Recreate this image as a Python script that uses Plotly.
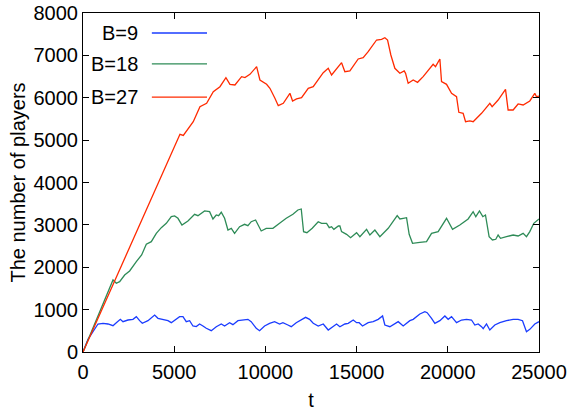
import plotly.graph_objects as go

# ---- data ----
t_b9 = [0, 274, 822, 1096, 1370, 1644, 1827, 2046, 2192, 2466, 2740, 2923, 3105, 3251, 3562, 3927,
        4110, 4384, 4658, 4841, 5023, 5297, 5480, 5662, 5845, 6028, 6210, 6393, 6576, 6759, 7033,
        7307, 7581, 7763, 8037, 8220, 8494, 8768, 9042, 9220, 9499, 9681, 9955, 10229, 10503,
        10778, 10960, 11234, 11417, 11690, 11964, 12203, 12422, 12622, 12896, 13171, 13445,
        13719, 13902, 14084, 14357, 14540, 14815, 15000, 15140, 15325, 15635, 15909, 16183,
        16424, 16550, 16824, 17007, 17281, 17555, 17738, 17920, 18102, 18468, 18742, 18869,
        19109, 19290, 19565, 19839, 20020, 20205, 20479, 20753, 21027, 21301, 21482, 21665,
        21849, 21940, 22122, 22304, 22578, 22852, 23218, 23581, 23855, 24096, 24313, 24496,
        24770, 25000]
n_b9 = [0, 300, 661, 677, 661, 621, 692, 771, 716, 755, 771, 834, 739, 677, 739, 873,
        795, 771, 739, 692, 755, 834, 834, 716, 739, 614, 600, 661, 614, 559, 503,
        597, 661, 614, 692, 645, 739, 755, 771, 716, 559, 503, 614, 677, 716,
        661, 692, 637, 597, 692, 755, 818, 771, 677, 614, 661, 519,
        597, 661, 597, 661, 677, 755, 692, 692, 614, 692, 716, 771,
        850, 637, 597, 637, 716, 614, 677, 739, 771, 897, 952, 928,
        795, 677, 739, 850, 771, 834, 692, 755, 771, 755, 637, 661,
        597, 550, 661, 519, 637, 692, 739, 771, 771, 739, 479, 535,
        661, 716]

t_b18 = [0, 1644, 1827, 2009, 2283, 2557, 2923, 3215, 3471, 3745, 4019, 4293, 4567, 4841,
         5023, 5206, 5425, 5754, 6119, 6302, 6667, 6941, 7124, 7307, 7435, 7581, 7763, 7946,
         8130, 8311, 8585, 8859, 9040, 9223, 9462, 9771, 10045, 10412, 10778, 11143, 11508,
         11782, 11965, 12093, 12275, 12568, 12896, 13080, 13354, 13500, 13628, 13755, 14000,
         14084, 14175, 14450, 14670, 14999, 15180, 15547, 15728, 16002, 16276, 16733, 17226,
         17372, 17555, 17738, 17882, 18066, 18468, 18834, 19109, 19471, 19931, 20260, 20660,
         21115, 21390, 21535, 21736, 21920, 22065, 22265, 22448, 22630, 22759, 22890, 23218,
         23581, 23855, 24130, 24313, 24496, 24715, 25000]
n_b18 = [0, 1699, 1621, 1660, 1817, 1912, 2131, 2289, 2542, 2603, 2801, 2934, 3037, 3193,
         3210, 3155, 2997, 3092, 3250, 3217, 3328, 3311, 3139, 3233, 3217, 3297, 3155, 2879,
         2919, 2801, 2957, 3013, 2982, 3075, 3115, 2856, 2919, 2919, 3037, 3155, 3250,
         3351, 3375, 2839, 2816, 2919, 3075, 3037, 3037, 2934, 2957, 2895, 2974,
         2974, 2840, 2777, 2698, 2816, 2722, 2895, 2761, 2879, 2722, 2919, 3217,
         3139, 3155, 3170, 2777, 2565, 2588, 2603, 2801, 2840, 3155, 2895, 2997,
         3139, 3311, 3193, 3328, 3193, 3233, 2722, 2643, 2660, 2761, 2683, 2722,
         2761, 2738, 2800, 2722, 2840, 3037, 3140]

t_b27 = [0, 5316, 5500, 6045, 6412, 6777, 7143, 7508, 7836, 8056, 8330, 8695, 8878, 9152,
         9518, 9700, 10066, 10248, 10522, 10705, 10980, 11251, 11344, 11490, 11709, 11983,
         12349, 12622, 13171, 13445, 13628, 14176, 14357, 14632, 15087, 15361, 15635, 16095,
         16369, 16550, 16698, 16878, 17097, 17372, 17609, 17685, 17828, 18102, 18341, 18649,
         19197, 19326, 19565, 19657, 19931, 20205, 20479, 20605, 20841, 20973, 21209, 21390,
         21849, 22304, 22430, 22759, 23164, 23307, 23581, 23855, 24129, 24496, 24770, 24862,
         25000]
n_b27 = [0, 5137, 5110, 5435, 5789, 5869, 6143, 6261, 6474, 6317, 6301, 6497, 6474, 6553,
         6733, 6419, 6317, 6223, 5987, 5813, 5869, 6065, 6105, 5924, 5971, 6002,
         6223, 6261, 6592, 6695, 6537, 6828, 6615, 6632, 6915, 6946, 7087, 7363,
         7380, 7417, 7363, 7009, 6695, 6577, 6632, 6577, 6341, 6419, 6364, 6497,
         6789, 6733, 6915, 6379, 6317, 6105, 6025, 5657, 5633, 5435, 5452, 5435,
         5633, 5869, 5789, 5947, 6199, 5711, 5711, 5853, 5829, 5924, 6105, 6025,
         6040]

series = [("B=9", t_b9, n_b9, "#1a3cff"),
          ("B=18", t_b18, n_b18, "#2e8b57"),
          ("B=27", t_b27, n_b27, "#ff2a00")]

x_ticks = [0, 5000, 10000, 15000, 20000, 25000]
x_tick_text = ["0", "5000", "10000", "15000", "20000", "25000"]
y_ticks = [0, 1000, 2000, 3000, 4000, 5000, 6000, 7000, 8000]
y_tick_text = ["0", "1000", "2000", "3000", "4000", "5000", "6000", "7000", "8000"]

FS = 20

fig = go.Figure()
for name, t, n, c in series:
    fig.add_trace(go.Scatter(x=t, y=n, mode="lines", name=name,
                             line=dict(color=c, width=1.3), showlegend=False))

# gnuplot-style legend: label on the left, sample line on the right
leg_y = [0.941, 0.850, 0.752]
for (name, t, n, c), yy in zip(series, leg_y):
    fig.add_annotation(x=0.125, y=yy, xref="paper", yref="paper", text=name,
                       showarrow=False, xanchor="right", yanchor="middle",
                       font=dict(size=FS, color="black"))
    fig.add_shape(type="line", xref="paper", yref="paper", x0=0.151, x1=0.272,
                  y0=yy, y1=yy, line=dict(color=c, width=1.3))

axis_common = dict(showline=True, linecolor="black", linewidth=1, mirror="ticks",
                   ticks="inside", ticklen=6, tickcolor="black", showgrid=False,
                   zeroline=False, automargin=False, tickfont=dict(size=FS, color="black"))

fig.update_layout(
    width=569, height=412,
    margin=dict(l=83, r=30, t=13, b=60),
    paper_bgcolor="white", plot_bgcolor="white",
    font=dict(family="Liberation Sans, Arial, sans-serif", color="black"),
    xaxis=dict(range=[0, 25000], tickvals=x_ticks, ticktext=x_tick_text,
               ticklabelstandoff=2,
               title=dict(text="t", font=dict(size=FS), standoff=10), **axis_common),
    yaxis=dict(range=[0, 8000], tickvals=y_ticks, ticktext=y_tick_text,
               ticklabelstandoff=0,
               title=dict(text="The number of players", font=dict(size=FS), standoff=2),
               **axis_common),
)

fig.write_html("out.html", config={"displayModeBar": False},
               post_script="document.body.style.margin='0';")
